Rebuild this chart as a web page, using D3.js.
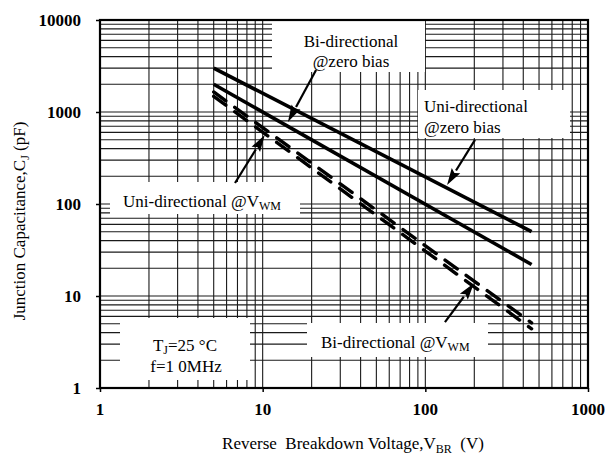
<!DOCTYPE html>
<html>
<head>
<meta charset="utf-8">
<script src="https://cdn.jsdelivr.net/npm/d3@7"></script>
<style>
  body { margin: 0; background: #fff; }
  text { font-family: "Liberation Serif", "Times New Roman", serif; fill: #000; white-space: pre; }
</style>
</head>
<body>
<script>
// ---- data ----
const xTickValues = [1, 10, 100, 1000];
const xTickLabels = ["1", "10", "100", "1000"];
const yTickValues = [1, 10, 100, 1000, 10000];
const yTickLabels = ["1", "10", "100", "1000", "10000"];

const voltage = [5, 450];                 // V_BR (V)
const uniZeroBias = [3000, 50];           // pF
const biZeroBias = [2000, 22];            // pF
const uniVwm = [1650, 5.1];               // pF
const biVwm = [1480, 4.4];                // pF

// arrows: [fromV, fromC, toV, toC] in data units
const arrowBiZero = [21.3, 2860, 14.3, 780];
const arrowUniZero = [202, 497, 136, 161];
const arrowUniVwm = [6.76, 169, 10.3, 562];
const arrowBiVwm = [132, 5.2, 199, 13.8];

// ---- layout ----
const W = 613, H = 458;
const svg = d3.select("body").append("svg").attr("width", W).attr("height", H);

const x = d3.scaleLog().domain([1, 1000]).range([100, 588]);
const y = d3.scaleLog().domain([1, 10000]).range([388, 20]);

// grid
const grid = svg.append("g");
grid.selectAll("line.v").data(x.ticks()).join("line")
  .attr("x1", d => x(d)).attr("x2", d => x(d))
  .attr("y1", y(10000)).attr("y2", y(1))
  .attr("stroke", "#1a1a1a").attr("stroke-width", 1.1);
grid.selectAll("line.h").data(y.ticks()).join("line")
  .attr("y1", d => y(d)).attr("y2", d => y(d))
  .attr("x1", x(1)).attr("x2", x(1000))
  .attr("stroke", "#1a1a1a").attr("stroke-width", 1.1);

// white label boxes that hide the grid
const boxes = [
  [272, 21, 153, 51],
  [418, 90, 152, 48],
  [110, 182, 190, 32],
  [307, 323, 181, 34],
  [120, 318, 130, 62]
];
svg.append("g").selectAll("rect").data(boxes).join("rect")
  .attr("x", d => d[0]).attr("y", d => d[1])
  .attr("width", d => d[2]).attr("height", d => d[3])
  .attr("fill", "#fff");

// axes
const xAxis = d3.axisBottom(x).tickValues(xTickValues).tickSize(4).tickFormat("");
const yAxis = d3.axisLeft(y).tickValues(yTickValues).tickSize(4).tickFormat("");
const gx = svg.append("g").attr("transform", `translate(0,${y(1)})`).call(xAxis);
const gy = svg.append("g").attr("transform", `translate(${x(1)},0)`).call(yAxis);
[gx, gy].forEach(g => {
  g.select(".domain").remove();
  g.selectAll(".tick line").attr("stroke", "#000").attr("stroke-width", 1.5);
});

// border
svg.append("rect")
  .attr("x", x(1)).attr("y", y(10000))
  .attr("width", x(1000) - x(1)).attr("height", y(1) - y(10000))
  .attr("fill", "none").attr("stroke", "#000").attr("stroke-width", 2.2);

// tick labels
svg.append("g").selectAll("text").data(xTickValues).join("text")
  .attr("x", d => x(d)).attr("y", 415)
  .attr("text-anchor", "middle").attr("font-size", 17).attr("font-weight", "bold")
  .text((d, i) => xTickLabels[i]);
svg.append("g").selectAll("text").data(yTickValues).join("text")
  .attr("x", 81).attr("y", d => y(d) + 6)
  .attr("text-anchor", "end").attr("font-size", 17).attr("font-weight", "bold")
  .text((d, i) => yTickLabels[i]);

// axis titles
const xt = svg.append("text").attr("x", 353).attr("y", 449)
  .attr("text-anchor", "middle").attr("font-size", 17);
xt.append("tspan").text("Reverse  Breakdown Voltage,V");
xt.append("tspan").attr("font-size", 12).attr("dy", 4).text("BR");
xt.append("tspan").attr("dy", -4).text("  (V)");

const yt = svg.append("text")
  .attr("transform", "translate(25,221) rotate(-90)")
  .attr("text-anchor", "middle").attr("font-size", 17);
yt.append("tspan").text("Junction Capacitance,C");
yt.append("tspan").attr("font-size", 12).attr("dy", 4).text("J");
yt.append("tspan").attr("dy", -4).text(" (pF)");

// data lines
const line = d3.line().x(d => x(d[0])).y(d => y(d[1]));
const series = [
  { c: uniZeroBias, dash: null },
  { c: biZeroBias, dash: null },
  { c: uniVwm, dash: "15,11" },
  { c: biVwm, dash: "15,11" }
];
svg.append("g").selectAll("path").data(series).join("path")
  .attr("d", s => line(voltage.map((v, i) => [v, s.c[i]])))
  .attr("fill", "none").attr("stroke", "#000")
  .attr("stroke-width", s => s.dash ? 3.4 : 3.6)
  .attr("stroke-linecap", s => s.dash ? "round" : "butt")
  .attr("stroke-dasharray", s => s.dash);

// arrows
function arrow(a) {
  const x0 = x(a[0]), y0 = y(a[1]), x1 = x(a[2]), y1 = y(a[3]);
  const dx = x1 - x0, dy = y1 - y0, len = Math.hypot(dx, dy);
  const ux = dx / len, uy = dy / len;
  const hl = 17, hw = 5;
  const bx = x1 - ux * hl, by = y1 - uy * hl;
  svg.append("line").attr("x1", x0).attr("y1", y0).attr("x2", bx).attr("y2", by)
    .attr("stroke", "#000").attr("stroke-width", 2.2);
  svg.append("path")
    .attr("d", `M${x1},${y1} L${bx - uy * hw},${by + ux * hw} L${bx + ux * 3},${by + uy * 3} L${bx + uy * hw},${by - ux * hw} Z`)
    .attr("fill", "#000");
}
[arrowBiZero, arrowUniZero, arrowUniVwm, arrowBiVwm].forEach(arrow);

// annotation texts
function label(xp, yp, anchor, parts) {
  const t = svg.append("text").attr("x", xp).attr("y", yp)
    .attr("text-anchor", anchor).attr("font-size", 17);
  parts.forEach(p => {
    if (p.sub) t.append("tspan").attr("font-size", 12).attr("dy", 3).text(p.s);
    else t.append("tspan").attr("dy", p.up ? -3 : 0).text(p.s);
  });
}
label(351, 47, "middle", [{ s: "Bi-directional" }]);
label(351, 67, "middle", [{ s: "@zero bias" }]);
label(424, 112, "start", [{ s: "Uni-directional" }]);
label(424, 133, "start", [{ s: "@zero bias" }]);
label(123, 207, "start", [{ s: "Uni-directional @V" }, { s: "WM", sub: true }]);
label(321, 348, "start", [{ s: "Bi-directional @V" }, { s: "WM", sub: true }]);
label(185, 351, "middle", [{ s: "T" }, { s: "J", sub: true }, { s: "=25 °C", up: true }]);
label(186, 372, "middle", [{ s: "f=1 0MHz" }]);
</script>
</body>
</html>
